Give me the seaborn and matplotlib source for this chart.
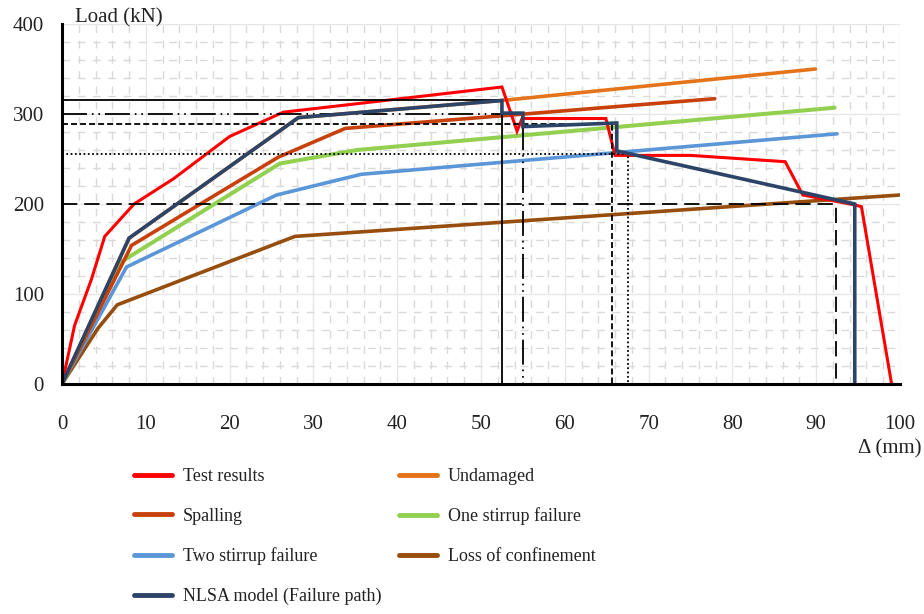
import matplotlib
matplotlib.use("Agg")
import matplotlib.pyplot as plt
import seaborn as sns

# Load-displacement curves (displacement in mm, load in kN)
test_x = [0, 1.5, 3.5, 5.1, 8.6, 13.3, 20.0, 26.4, 52.5, 54.3, 54.9, 64.9, 66.0, 75.0, 86.3, 88.4, 94.6, 95.4, 99.0]
test_y = [0, 65, 116, 164, 200, 228, 275, 302, 330, 281, 295, 295, 254, 254, 247, 210, 199, 197, 0]

undamaged_x = [0, 8.0, 28.2, 52.5, 89.9]
undamaged_y = [0, 162, 296, 315, 350]

spalling_x = [0, 8.3, 25.8, 33.8, 77.9]
spalling_y = [0, 154, 252, 284, 317]

one_stirrup_x = [0, 7.1, 26.0, 35.2, 92.2]
one_stirrup_y = [0, 136, 245, 260, 307]

two_stirrup_x = [0, 7.7, 25.6, 35.7, 92.5]
two_stirrup_y = [0, 130, 210, 233, 278]

confinement_x = [0, 4.3, 6.6, 27.8, 100.0]
confinement_y = [0, 62, 88, 164, 210]

nlsa_x = [0, 8.0, 28.2, 52.5, 52.5, 55.0, 55.0, 66.2, 66.2, 94.6, 94.6]
nlsa_y = [0, 162, 296, 315, 301, 301, 286, 290, 259, 200, 0]

# Capacity levels of each damage state and the displacement where it is reached
ref_load = [315, 300, 289, 255, 200]
ref_disp = [52.5, 55.0, 65.6, 67.6, 92.4]

x_ticks = [0, 10, 20, 30, 40, 50, 60, 70, 80, 90, 100]
y_ticks = [0, 100, 200, 300, 400]

sns.set_style("white")
plt.rcParams["font.family"] = ["Liberation Serif", "DejaVu Serif"]
plt.rcParams["lines.scale_dashes"] = False

fig = plt.figure(figsize=(9.24, 6.14), dpi=100)
ax = fig.add_axes([62 / 924, 1 - 384 / 614, (900 - 62) / 924, (384 - 24) / 614])

curve_kw = dict(sort=False, estimator=None, legend=False, ax=ax,
                solid_capstyle="round", solid_joinstyle="miter")

sns.lineplot(x=confinement_x, y=confinement_y, color="#974D0E", lw=2.6,
             label="Loss of confinement", **curve_kw)
sns.lineplot(x=two_stirrup_x, y=two_stirrup_y, color="#5A96D8", lw=2.6,
             label="Two stirrup failure", **curve_kw)
sns.lineplot(x=one_stirrup_x, y=one_stirrup_y, color="#92D050", lw=2.9,
             label="One stirrup failure", **curve_kw)
sns.lineplot(x=spalling_x, y=spalling_y, color="#C8400A", lw=2.6,
             label="Spalling", **curve_kw)
sns.lineplot(x=undamaged_x, y=undamaged_y, color="#E5731A", lw=2.6,
             label="Undamaged", **curve_kw)
sns.lineplot(x=test_x, y=test_y, color="#FF0000", lw=2.2,
             label="Test results", **curve_kw)

# Damage-state limits: horizontal capacity and vertical displacement
ref_styles = [
    "-",
    (0, (18, 3.5, 1.2, 3.5, 1.2, 3.5)),
    (0, (4.3, 2.2)),
    (0, (1.3, 1.8)),
    (0, (11, 5)),
]
for load, disp, ls in zip(ref_load, ref_disp, ref_styles):
    sns.lineplot(x=[0, disp, disp], y=[load, load, 0], sort=False, estimator=None,
                 legend=False, ax=ax, color="black", lw=1.3, linestyle=ls)

sns.lineplot(x=nlsa_x, y=nlsa_y, color="#2C4467", lw=2.6,
             label="NLSA model (Failure path)", **curve_kw)

ax.set_xlim(0, 100)
ax.set_ylim(0, 400)
ax.set_xticks(x_ticks)
ax.set_yticks(y_ticks)
ax.set_xticks(range(0, 101, 2), minor=True)
ax.set_yticks(range(0, 401, 20), minor=True)
ax.set_xlabel("")
ax.set_ylabel("")

ax.set_axisbelow(True)
ax.grid(which="major", color="#E6E6E6", lw=1.0, ls="-")
ax.grid(which="minor", color="#D9D9D9", lw=1.0, ls=(0, (5.5, 5.5)))

for side in ["top", "right"]:
    ax.spines[side].set_visible(False)
for side in ["left", "bottom"]:
    ax.spines[side].set_color("black")
    ax.spines[side].set_linewidth(2.2)

ax.tick_params(which="major", direction="inout", length=12, width=2.2,
               color="black", labelsize=15, labelcolor="#222222")
ax.tick_params(axis="x", which="major", pad=16)
ax.tick_params(axis="y", which="major", pad=7)
ax.tick_params(which="minor", length=0)

fig.text(75 / 924, 1 - 18 / 614, "Load (kN)", fontsize=15, color="#222222",
         ha="left", va="center")
fig.text(922 / 924, 1 - 449 / 614, "Δ (mm)", fontsize=15, color="#222222",
         ha="right", va="center")

handles, labels = ax.get_legend_handles_labels()
order = ["Test results", "Spalling", "Two stirrup failure", "NLSA model (Failure path)",
         "Undamaged", "One stirrup failure", "Loss of confinement"]
lookup = dict(zip(labels, handles))
leg = fig.legend([lookup[k] for k in order], order, ncol=2, frameon=False,
                 loc="upper left", bbox_to_anchor=(134 / 924, 1 - 468 / 614),
                 borderpad=0, borderaxespad=0, fontsize=13, handlelength=2.1,
                 handletextpad=0.6, columnspacing=1.0, labelspacing=1.25)
for line in leg.get_lines():
    line.set_linewidth(3.5)
for txt in leg.get_texts():
    txt.set_color("#222222")

fig.savefig("out.png", dpi=100)
